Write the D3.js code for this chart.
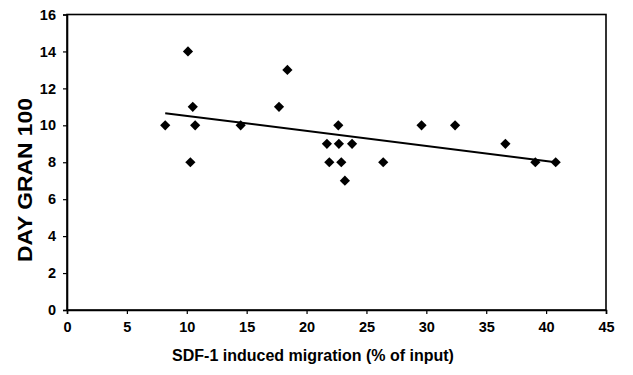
<!DOCTYPE html>
<html>
<head>
<meta charset="utf-8">
<script src="https://cdn.jsdelivr.net/npm/d3@7"></script>
<style>
  body { margin: 0; background: #fff; }
  svg { display: block; font-family: 'Liberation Sans', Arial, sans-serif; }
</style>
</head>
<body>
<div id="chart"></div>
<script>
// migration (% of input) vs day of granulocyte recovery
const migration = [8.2, 10.1, 10.3, 10.5, 10.7, 14.5, 17.7, 18.4, 21.7, 21.9, 22.65,
  22.7, 22.9, 23.2, 23.8, 26.4, 29.6, 32.4, 36.6, 39.1, 40.8]
const dayGran = [10, 14, 8, 11, 10, 10, 11, 13, 9, 8, 10, 9, 8, 7, 9, 8, 10, 10, 9, 8, 8]
const xTicks = [0, 5, 10, 15, 20, 25, 30, 35, 40, 45]
const yTicks = [0, 2, 4, 6, 8, 10, 12, 14, 16]

const width = 633
const height = 375
const margin = { top: 14.5, right: 27, bottom: 65, left: 67 }
const innerWidth = width - margin.left - margin.right
const innerHeight = height - margin.top - margin.bottom

const points = migration.map((x, i) => ({ x, y: dayGran[i] }))

// least squares trend line
const mx = d3.mean(points, d => d.x)
const my = d3.mean(points, d => d.y)
const slope = d3.sum(points, d => (d.x - mx) * (d.y - my)) / d3.sum(points, d => (d.x - mx) ** 2)
const intercept = my - slope * mx
const xExt = d3.extent(points, d => d.x)

const svg = d3.select('#chart').append('svg')
  .attr('width', width)
  .attr('height', height)

const g = svg.append('g')
  .attr('transform', `translate(${margin.left},${margin.top})`)

const xScale = d3.scaleLinear().domain([0, 45]).range([0, innerWidth])
const yScale = d3.scaleLinear().domain([0, 16]).range([innerHeight, 0])

// frame
g.append('rect')
  .attr('width', innerWidth)
  .attr('height', innerHeight)
  .attr('fill', 'none')
  .attr('stroke', '#000')
  .attr('stroke-width', 1.6)

// axes
const xAxis = g.append('g')
  .attr('transform', `translate(0,${innerHeight})`)
  .call(d3.axisBottom(xScale).tickValues(xTicks).tickSize(4).tickPadding(8))
const yAxis = g.append('g')
  .call(d3.axisLeft(yScale).tickValues(yTicks).tickSize(4).tickPadding(7))

;[xAxis, yAxis].forEach(a => {
  a.select('.domain').attr('stroke', '#000').attr('stroke-width', 1.6)
  a.selectAll('.tick line').attr('stroke', '#000').attr('stroke-width', 1.2)
  a.selectAll('.tick text')
    .attr('fill', '#000')
    .attr('font-size', '14.5px')
    .attr('font-weight', 'bold')
    .attr('font-family', "'Liberation Sans', Arial, sans-serif")
})

// trend line
g.append('line')
  .attr('x1', xScale(xExt[0]))
  .attr('y1', yScale(intercept + slope * xExt[0]))
  .attr('x2', xScale(xExt[1]))
  .attr('y2', yScale(intercept + slope * xExt[1]))
  .attr('stroke', '#000')
  .attr('stroke-width', 2)

// diamond markers
const diamond = d3.symbol().type(d3.symbolSquare).size(52)
g.selectAll('path.pt')
  .data(points)
  .join('path')
  .attr('class', 'pt')
  .attr('d', diamond)
  .attr('fill', '#000')
  .attr('transform', d => `translate(${xScale(d.x)},${yScale(d.y)}) rotate(45)`)

// axis titles
svg.append('text')
  .attr('x', 313)
  .attr('y', 361)
  .attr('text-anchor', 'middle')
  .attr('font-size', '16px')
  .attr('font-weight', 'bold')
  .text('SDF-1 induced migration (% of input)')

svg.append('text')
  .attr('transform', 'translate(32,180) rotate(-90)')
  .attr('text-anchor', 'middle')
  .attr('font-size', '20px')
  .attr('font-weight', 'bold')
  .attr('textLength', 164)
  .attr('lengthAdjust', 'spacingAndGlyphs')
  .text('DAY GRAN 100')
</script>
</body>
</html>
